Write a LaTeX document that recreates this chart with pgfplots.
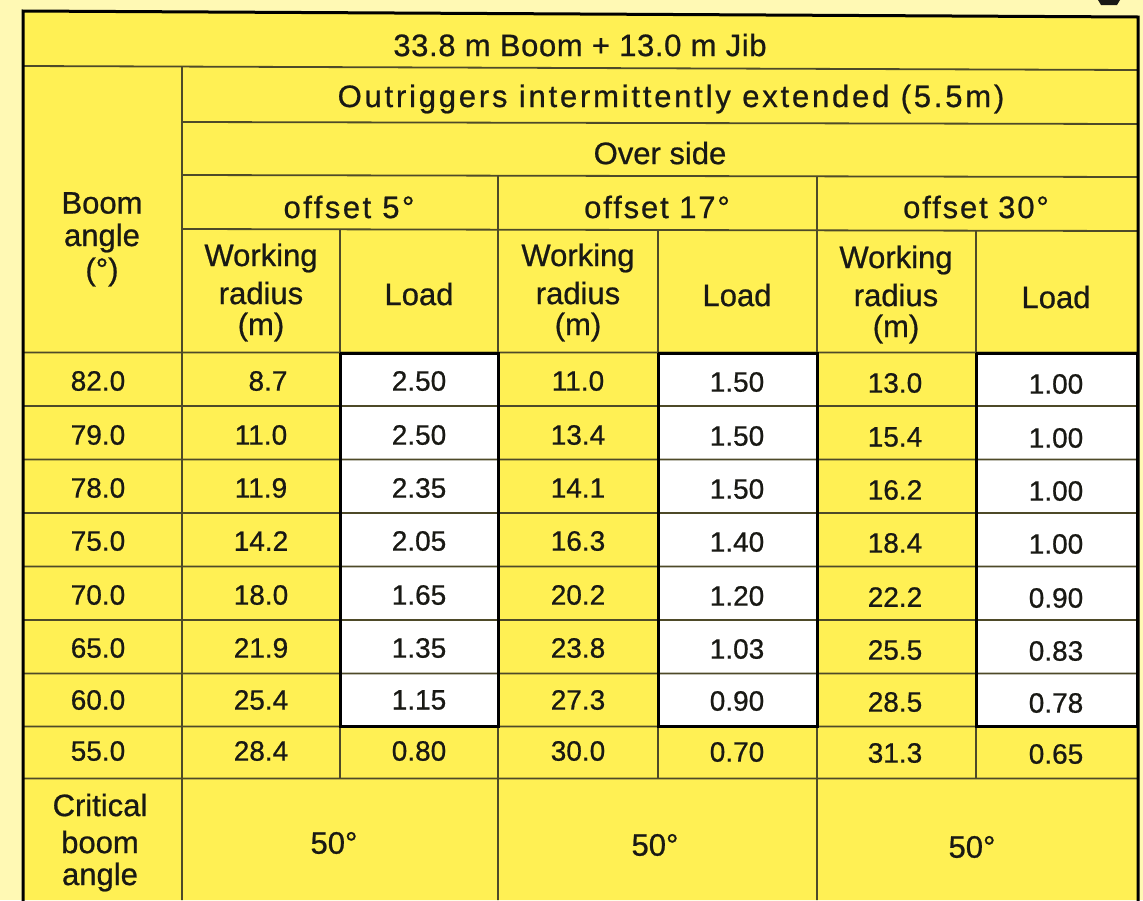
\documentclass[border=0pt]{standalone}
\usepackage{fontspec}
\setmainfont{Liberation Sans}[FakeBold=0.7]
\usepackage{pgfplots}
\pgfplotsset{compat=1.18}
\definecolor{pale}{RGB}{255,249,180}
\definecolor{tabyel}{RGB}{255,240,84}
\definecolor{ink}{RGB}{25,25,20}
\definecolor{rulec}{RGB}{78,74,40}
\newcommand\wide[2]{{\addfontfeatures{LetterSpace=#1}#2}}
\begin{document}
\begin{tikzpicture}
\begin{axis}[width=1143pt,height=900pt,scale only axis,
  xmin=0,xmax=1143,ymin=0,ymax=900,y dir=reverse,hide axis,
  txt/.style={only marks, mark=*, mark size=0.01pt,
    mark options={draw opacity=0,fill opacity=0},
    point meta=explicit symbolic, nodes near coords,
    every node near coord/.append style={anchor=center, inner sep=0pt,
      opacity=1, text opacity=1, fill opacity=1, draw opacity=1,
      font=\fontsize{#1}{#1}\selectfont, text=ink}}]
% backgrounds
\addplot[fill=pale,draw=none] coordinates {(0,0) (1143,0) (1143,900) (0,900)};
\addplot[fill=tabyel,draw=none] coordinates {(23,11) (1138,17) (1138,900) (23,900)};
% fragment of a glyph above the table
\addplot[fill=ink,draw=none] coordinates {(1098,0) (1120,0) (1117,5) (1101,5)};
% white load boxes
\addplot[fill=white,draw=none] coordinates {(340,353) (498,353) (498,726) (340,726)};
\addplot[fill=white,draw=none] coordinates {(658,353) (817,353) (817,726) (658,726)};
\addplot[fill=white,draw=none] coordinates {(976,353) (1137,353) (1137,726) (976,726)};
% thin rules
\addplot[rulec,line width=1.8pt,unbounded coords=jump] coordinates {
 (23,66) (1137,70) (nan,nan)
 (182,122) (1137,124) (nan,nan)
 (182,175) (1137,177) (nan,nan)
 (182,229) (1137,231) (nan,nan)
 (23,352.5) (1137,352.5) (nan,nan)
 (23,406) (1137,406) (nan,nan)
 (23,459.5) (1137,459.5) (nan,nan)
 (23,513) (1137,513) (nan,nan)
 (23,566.5) (1137,566.5) (nan,nan)
 (23,620) (1137,620) (nan,nan)
 (23,673.5) (1137,673.5) (nan,nan)
 (23,726.5) (1137,726.5) (nan,nan)
 (23,778.5) (1137,778.5) (nan,nan)
 (182,67) (182,900) (nan,nan)
 (498,176) (498,900) (nan,nan)
 (817,176) (817,900) (nan,nan)
 (340,230) (340,778.5) (nan,nan)
 (658,230) (658,778.5) (nan,nan)
 (976,230) (976,778.5)
};
% thick borders of the white boxes
\addplot[black,line width=3pt,unbounded coords=jump] coordinates {
 (340,353) (498,353) (498,726) (340,726) (340,353) (nan,nan)
 (658,353) (817,353) (817,726) (658,726) (658,353) (nan,nan)
 (976,353) (1137,353) (1137,726) (976,726) (976,353)
};
% outer border
\addplot[black,line width=3pt] coordinates {(23,905) (23,11) (1138,17) (1138,905)};
% header texts
\addplot[txt=31] coordinates {
 (580,45) [\wide{2}{33.8 m Boom + 13.0 m Jib}]
 (671,99) [\wide{9}{Outriggers intermittently extended (5.5m)}]
 (660,153) [Over side]
 (349,207) [\wide{8}{offset 5°}]
 (657,207) [\wide{6}{offset 17°}]
 (976,207) [\wide{6}{offset 30°}]
 (102,203) [Boom]
 (102,238) [angle]
 (102,272) [(°)]
 (261,258) [Working] (261,293) [radius] (261,327) [(m)]
 (578,258) [Working] (578,293) [radius] (578,327) [(m)]
 (896,260) [Working] (896,295) [radius] (896,329) [(m)]
 (419,294) [Load] (737,295) [Load] (1056,297) [Load]
 (100,805) [Critical] (100,842) [boom] (100,877) [angle]
 (334,843) [50°] (655,845) [50°] (972,847) [50°]
};
% boom angle column
\addplot[txt=28] coordinates {
 (98,381) [82.0] (98,435) [79.0] (98,488) [78.0] (98,541) [75.0]
 (98,595) [70.0] (98,648) [65.0] (98,700) [60.0] (98,751) [55.0]
};
% offset 5
\addplot[txt=28] coordinates {
 (268,381) [8.7] (261,435) [11.0] (261,488) [11.9] (261,541) [14.2]
 (261,595) [18.0] (261,648) [21.9] (261,700) [25.4] (261,751) [28.4]
};
\addplot[txt=28] coordinates {
 (419,381) [2.50] (419,435) [2.50] (419,488) [2.35] (419,541) [2.05]
 (419,595) [1.65] (419,648) [1.35] (419,700) [1.15] (419,751) [0.80]
};
% offset 17
\addplot[txt=28] coordinates {
 (578,381) [11.0] (578,435) [13.4] (578,488) [14.1] (578,541) [16.3]
 (578,595) [20.2] (578,648) [23.8] (578,700) [27.3] (578,751) [30.0]
};
\addplot[txt=28] coordinates {
 (737,382) [1.50] (737,436) [1.50] (737,489) [1.50] (737,542) [1.40]
 (737,596) [1.20] (737,649) [1.03] (737,701) [0.90] (737,752) [0.70]
};
% offset 30
\addplot[txt=28] coordinates {
 (895,383) [13.0] (895,437) [15.4] (895,490) [16.2] (895,543) [18.4]
 (895,597) [22.2] (895,650) [25.5] (895,702) [28.5] (895,753) [31.3]
};
\addplot[txt=28] coordinates {
 (1056,384) [1.00] (1056,438) [1.00] (1056,491) [1.00] (1056,544) [1.00]
 (1056,598) [0.90] (1056,651) [0.83] (1056,703) [0.78] (1056,754) [0.65]
};
\end{axis}
\end{tikzpicture}
\end{document}
